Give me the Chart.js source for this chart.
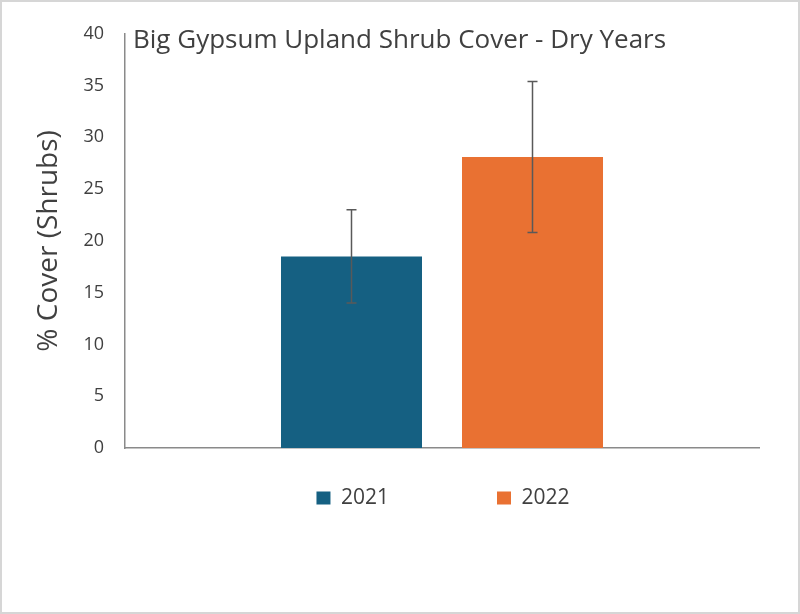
<!DOCTYPE html>
<html>
<head>
<meta charset="utf-8">
<script src="https://cdn.jsdelivr.net/npm/chart.js@4.4.1/dist/chart.umd.min.js"></script>
<style>
  html, body { margin: 0; padding: 0; background: #fff; }
  .frame {
    width: 800px; height: 614px;
    box-sizing: border-box;
    border: 2px solid #d6d6d6;
    position: relative;
  }
</style>
</head>
<body>
<div class="frame"><canvas id="myChart"></canvas></div>
<script>
// values
const categories = [''];
const years = ['2021', '2022'];
const meanCover = [18.5, 28.1];
const errorSize = [4.5, 7.3];   // +/- bar length
const barColors = ['#156082', '#E97132'];
const yTicks = [0, 5, 10, 15, 20, 25, 30, 35, 40];
const chartTitle = 'Big Gypsum Upland Shrub Cover - Dry Years';
const yTitle = '% Cover (Shrubs)';

const textColor = '#404040';
const axisColor = '#8a8a8a';

// error bars drawn over each bar through the y scale
const errorBars = {
  id: 'errorBars',
  afterDatasetsDraw(chart) {
    const { ctx, scales: { y } } = chart;
    ctx.save();
    ctx.strokeStyle = '#595959';
    ctx.lineWidth = 1.5;
    chart.data.datasets.forEach((ds, i) => {
      const meta = chart.getDatasetMeta(i);
      meta.data.forEach((bar, j) => {
        const v = ds.data[j];
        const e = ds.errors[j];
        const top = y.getPixelForValue(v + e);
        const bottom = y.getPixelForValue(v - e);
        const x = bar.x;
        ctx.beginPath();
        ctx.moveTo(x, top); ctx.lineTo(x, bottom);
        ctx.moveTo(x - 5, top); ctx.lineTo(x + 5, top);
        ctx.moveTo(x - 5, bottom); ctx.lineTo(x + 5, bottom);
        ctx.stroke();
      });
    });
    ctx.restore();
  }
};

// title sits inside the plot, top left
const innerTitle = {
  id: 'innerTitle',
  afterDraw(chart) {
    const { ctx, chartArea } = chart;
    ctx.save();
    ctx.font = '26px "Open Sans"';
    ctx.fillStyle = textColor;
    ctx.textAlign = 'left';
    ctx.textBaseline = 'alphabetic';
    ctx.fillText(chartTitle, chartArea.left + 8, chartArea.top + 14);
    ctx.restore();
  }
};

// move the legend under the plot centre, close to the axis
const legendNudge = {
  id: 'legendNudge',
  afterLayout(chart) {
    const lg = chart.legend;
    const ca = chart.chartArea;
    if (!lg) return;
    const shift = (ca.left + ca.right) / 2 - (lg.left + lg.right) / 2 + 1;
    lg.left += shift;
    lg.right += shift;
    const pad = lg.options.labels.padding;
    const newTop = ca.bottom + 50 - pad - 10.5;
    lg.top = newTop;
    lg.bottom = newTop + pad + 40;
    lg.height = lg.bottom - lg.top;
  }
};

const ctx = document.getElementById('myChart');

new Chart(ctx, {
  type: 'bar',
  data: {
    labels: categories,
    datasets: years.map((yr, i) => ({
      label: yr,
      data: [meanCover[i]],
      errors: [errorSize[i]],
      backgroundColor: barColors[i],
      borderWidth: 0,
      categoryPercentage: 0.571,
      barPercentage: 0.779,
    })),
  },
  options: {
    responsive: true,
    maintainAspectRatio: false,
    animation: false,
    layout: {
      padding: { left: 26, right: 39, top: 30, bottom: 124 }
    },
    scales: {
      x: {
        grid: { display: false, drawTicks: false },
        ticks: { display: false },
        border: { color: axisColor, width: 1.5 },
      },
      y: {
        min: 0,
        max: 40,
        afterBuildTicks: (scale) => {
          scale.ticks = yTicks.map(v => ({ value: v }));
        },
        afterFit: (scale) => { scale.width = 97; },
        grid: { display: false, drawTicks: false },
        border: { color: axisColor, width: 1.5 },
        ticks: {
          padding: 21,
          color: textColor,
          font: { family: '"Open Sans"', size: 18 },
        },
        title: {
          display: true,
          text: yTitle,
          color: textColor,
          font: { family: '"Open Sans"', size: 28 },
          padding: { top: 4, bottom: 4 },
        },
      },
    },
    plugins: {
      legend: {
        position: 'bottom',
        maxHeight: 40,
        labels: {
          boxWidth: 14,
          boxHeight: 13,
          padding: 108,
          color: textColor,
          font: { family: '"Open Sans"', size: 21 },
        },
      },
      tooltip: { enabled: false },
    },
  },
  plugins: [errorBars, innerTitle, legendNudge],
});
</script>
</body>
</html>
